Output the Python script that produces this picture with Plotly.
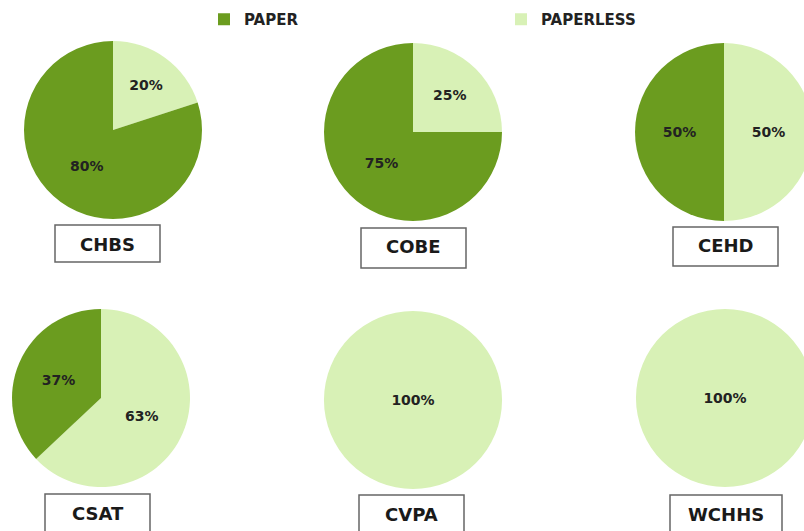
import plotly.graph_objects as go

# colleges and share of paper vs paperless (percent)
colleges = ["CHBS", "COBE", "CEHD", "CSAT", "CVPA", "WCHHS"]
paper = [80, 75, 50, 37, 0, 0]
paperless = [20, 25, 50, 63, 100, 100]
labels = ["PAPERLESS", "PAPER"]
colors = ["#d8f1b6", "#6b9c1f"]

# canvas is a bit wider than the window so the right column gets cut like the original
W, H = 830, 531
R = 89
centers = [(113, 130), (413, 132), (724, 132), (101, 398), (413, 400), (725, 398)]
boxes = [(55, 225, 160, 262), (361, 228, 466, 268), (673, 227, 778, 266),
         (45, 494, 150, 545), (359, 495, 464, 545), (670, 495, 782, 545)]

FONT = "DejaVu Sans"

fig = go.Figure()

for i, name in enumerate(colleges):
    cx, cy = centers[i]
    vals = [paperless[i], paper[i]]
    fig.add_trace(go.Pie(
        labels=labels,
        values=vals,
        text=[f"<b>{v}%</b>" if v > 0 else "" for v in vals],
        textinfo="text",
        textposition="inside",
        insidetextorientation="horizontal",
        textfont=dict(family=FONT, size=14, color="#222222"),
        marker=dict(colors=colors, line=dict(width=0)),
        sort=False,
        direction="clockwise",
        rotation=0,
        hoverinfo="label+percent",
        domain=dict(x=[(cx - R) / W, (cx + R) / W],
                    y=[1 - (cy + R) / H, 1 - (cy - R) / H]),
        showlegend=(i == 0),
    ))

    x0, y0, x1, y1 = boxes[i]
    fig.add_shape(type="rect", xref="paper", yref="paper",
                  x0=x0 / W, x1=x1 / W, y0=1 - y1 / H, y1=1 - y0 / H,
                  line=dict(color="#666666", width=1.5), fillcolor="white")
    fig.add_annotation(x=(x0 + x1) / 2 / W, y=1 - (y0 + 19) / H,
                       xref="paper", yref="paper", text=f"<b>{name}</b>",
                       showarrow=False, font=dict(family=FONT, size=18, color="#1a1a1a"),
                       xanchor="center", yanchor="middle")

fig.update_layout(
    width=W, height=H,
    margin=dict(l=0, r=0, t=0, b=0),
    paper_bgcolor="white",
    plot_bgcolor="white",
    legend=dict(orientation="h", x=204 / W, y=1 - 3 / H, xanchor="left", yanchor="top",
                traceorder="reversed",
                entrywidth=252, entrywidthmode="pixels",
                font=dict(family=FONT, size=15, color="#222222", weight="bold"),
                bgcolor="rgba(0,0,0,0)"),
)

fig.write_html("out.html", config={"displayModeBar": False},
               post_script="document.body.style.margin='0';document.body.style.overflow='hidden';")
